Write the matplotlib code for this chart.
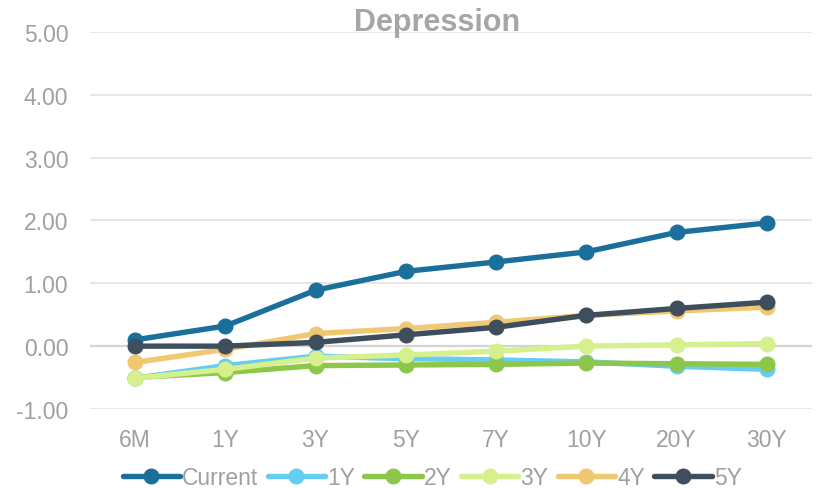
import matplotlib.pyplot as plt
import numpy as np

plt.rcParams['font.family'] = ['Liberation Sans', 'DejaVu Sans']

tenors = ["6M", "1Y", "3Y", "5Y", "7Y", "10Y", "20Y", "30Y"]

current = [0.10, 0.32, 0.89, 1.19, 1.34, 1.50, 1.81, 1.96]
y1 = [-0.51, -0.31, -0.16, -0.20, -0.22, -0.25, -0.32, -0.37]
y2 = [-0.50, -0.42, -0.31, -0.30, -0.29, -0.27, -0.28, -0.29]
y3 = [-0.51, -0.37, -0.19, -0.14, -0.08, 0.00, 0.02, 0.04]
y4 = [-0.26, -0.05, 0.20, 0.28, 0.38, 0.49, 0.56, 0.62]
y5 = [0.00, 0.00, 0.06, 0.18, 0.30, 0.49, 0.60, 0.70]

series = [("Current", current, "#1b6f9b"),
          ("1Y", y1, "#66cdf2"),
          ("2Y", y2, "#8cc74a"),
          ("3Y", y3, "#d7f08e"),
          ("4Y", y4, "#f0c872"),
          ("5Y", y5, "#3f4e5d")]

fig = plt.figure(figsize=(8.17, 4.89), dpi=100)
ax = fig.add_axes([0.110, 0.1616, 0.884, 0.771])

x = np.arange(len(tenors))
for name, vals, col in series:
    ax.plot(x, vals, color=col, lw=3.9, marker="o", markersize=10.5, label=name,
            solid_capstyle="round", zorder=3)

ax.set_xlim(-0.5, len(tenors) - 0.5)
ax.set_ylim(-1, 5)
ax.set_yticks(np.arange(-1, 6, 1))
ax.set_yticklabels(["%.2f" % v for v in np.arange(-1, 6, 1)])
ax.set_xticks(x)
ax.set_xticklabels(tenors)
ax.grid(axis="y", color="#e3e3e3", lw=1.2, zorder=0)
ax.axhline(0, color="#8a8a8a", lw=1.5, zorder=1)
for s in ax.spines.values():
    s.set_visible(False)
ax.tick_params(length=0, colors="#a0a0a0", labelsize=16.5)
ax.tick_params(axis="y", pad=15.5)
ax.tick_params(axis="x", pad=14)

fig.text(0.535, 0.953, "Depression", ha="center", va="center", fontsize=22,
         fontweight="bold", color="#a6a6a6")

leg = ax.legend(loc="upper center", bbox_to_anchor=(0.474, -0.150), ncol=6, frameon=False,
                fontsize=16.5, handlelength=2.5, handletextpad=0.1, columnspacing=0.4,
                borderpad=0, borderaxespad=0)
for t in leg.get_texts():
    t.set_color("#a0a0a0")

fig.savefig("out.png", dpi=100)
